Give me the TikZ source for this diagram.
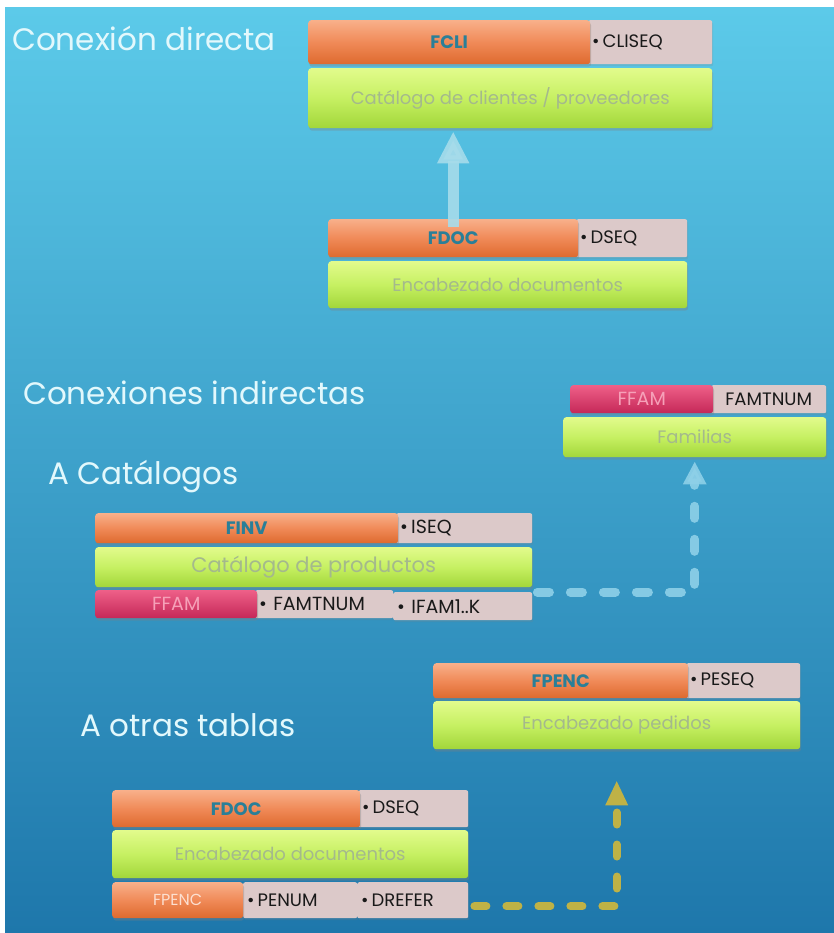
\documentclass[tikz,border=0pt]{standalone}
\usepackage{fontspec}
\setmainfont{Poppins}
\usetikzlibrary{arrows.meta,shadows,calc}
\definecolor{bgtop}{HTML}{5CCAE9}
\definecolor{bgbot}{HTML}{1E77AB}
\definecolor{orTop}{HTML}{F8B08A}
\definecolor{orMid}{HTML}{F08A58}
\definecolor{orBot}{HTML}{DE6A2E}
\definecolor{grTop}{HTML}{E2FB8C}
\definecolor{grMid}{HTML}{C6F062}
\definecolor{grBot}{HTML}{A2D63A}
\definecolor{grText}{HTML}{A4B98C}
\definecolor{keyfill}{HTML}{DCC9C9}
\definecolor{pkTop}{HTML}{EE6088}
\definecolor{pkBot}{HTML}{C52858}
\definecolor{pkText}{HTML}{F6A0B8}
\definecolor{tealtext}{HTML}{2A7F98}
\definecolor{titletext}{HTML}{E2F8FC}
\definecolor{arrowblue}{HTML}{A6DCEB}
\definecolor{dashblue}{HTML}{8ED0E8}
\definecolor{olive}{HTML}{BFB246}
\begin{document}
\begin{tikzpicture}[x=1pt,y=-1pt,
  bar/.style={rounded corners=3pt, inner sep=0pt, anchor=north west,
    drop shadow={opacity=0.35,shadow xshift=1pt,shadow yshift=-2.5pt}},
  obar/.style={bar, top color=orTop, bottom color=orBot, middle color=orMid,
    text=tealtext, font=\fontsize{18}{18}\selectfont\bfseries},
  obarlight/.style={bar, top color=orTop, bottom color=orBot, middle color=orMid,
    text=orTop!40!white, font=\fontsize{16}{16}\selectfont},
  pbar/.style={bar, top color=pkTop, bottom color=pkBot, middle color=pkTop!50!pkBot,
    text=pkText, font=\fontsize{19}{19}\selectfont},
  gbar/.style={bar, top color=grTop, bottom color=grBot, middle color=grMid,
    text=grText, font=\fontsize{18}{18}\selectfont},
  kbox/.style={rounded corners=2pt, inner sep=0pt, inner xsep=4pt, anchor=north west,
    fill=keyfill, text=black!90, align=left, font=\fontsize{18}{18}\selectfont,
    drop shadow={opacity=0.2,shadow xshift=1pt,shadow yshift=-2pt}},
  title/.style={anchor=base west, text=titletext, inner sep=0pt, font=\fontsize{31}{31}\selectfont},
  bigarrow/.style={line width=11pt, draw=arrowblue, opacity=0.9,
    -{Triangle[width=30pt,length=32pt]}},
  bluedash/.style={line width=9pt, draw=dashblue, opacity=0.9, line cap=round,
    dash pattern=on 12pt off 21pt, -{Triangle[width=22pt,length=23pt]}},
  olivedash/.style={line width=8pt, draw=olive, line cap=round,
    dash pattern=on 12pt off 20pt, -{Triangle[width=21pt,length=25pt]}}
]
\useasboundingbox (0,0) rectangle (834,933);
\fill[white] (0,0) rectangle (834,933);
\fill[top color=bgtop, bottom color=bgbot] (5,8) rectangle (834,933);

% titles
\node[title] (t1) at (12,51) {Conexión directa};
\node[title] (t2) at (23,404) {Conexiones indirectas};
\node[title] (t3) at (48,484) {A Catálogos};
\node[title] (t4) at (80,736) {A otras tablas};

% ---- Conexion directa
\node[kbox, text width=116pt, minimum height=44pt] (k1) at (588,20) {•\,CLISEQ};
\node[obar, minimum width=282pt, minimum height=44pt] (o1) at (308,20) {FCLI};
\node[gbar, minimum width=404pt, minimum height=60pt] (g1) at (308,68) {Catálogo de clientes / proveedores};

\node[kbox, text width=103pt, minimum height=38pt] (k2) at (576,219) {•\,DSEQ};
\node[obar, minimum width=250pt, minimum height=38pt] (o2) at (328,219) {FDOC};
\node[gbar, minimum width=359pt, minimum height=47pt] (g2) at (328,261) {Encabezado documentos};

\draw[bigarrow, shorten >=3pt] ([yshift=-8pt]o2.north) -- (o2.north |- g1.south);

% ---- Conexiones indirectas
\node[kbox, align=center, text width=107pt, minimum height=28pt] (k3) at (711,385) {FAMTNUM};
\node[pbar, minimum width=143pt, minimum height=28pt] (p1) at (570,385) {FFAM};
\node[gbar, minimum width=263pt, minimum height=40pt] (g3) at (563,417) {Familias};

\node[kbox, text width=128pt, minimum height=30pt, font=\fontsize{19}{19}\selectfont] (k4) at (396,513) {•\,ISEQ};
\node[obar, minimum width=303pt, minimum height=30pt] (o3) at (95,513) {FINV};
\node[gbar, minimum width=437pt, minimum height=40pt, font=\fontsize{21}{21}\selectfont] (g4) at (95,547) {Catálogo de productos};
\node[kbox, text width=130pt, minimum height=28pt, font=\fontsize{19}{19}\selectfont] (k5) at (255,590) {•\ FAMTNUM};
\node[kbox, text width=131pt, minimum height=28pt, font=\fontsize{19}{19}\selectfont] (k6) at (393,592) {•\ IFAM1..K};
\node[pbar, minimum width=162pt, minimum height=28pt] (p2) at (95,590) {FFAM};

\draw[bluedash, shorten >=4pt] ([xshift=5pt]k6.north east) -| (g3.south);

% ---- A otras tablas
\node[kbox, text width=106pt, minimum height=35pt] (k7) at (686,663) {•\,PESEQ};
\node[obar, minimum width=255pt, minimum height=35pt] (o4) at (433,663) {FPENC};
\node[gbar, minimum width=367pt, minimum height=48pt] (g5) at (433,701) {Encabezado pedidos};

\node[kbox, text width=102pt, minimum height=37pt] (k8) at (358,790) {•\,DSEQ};
\node[obar, minimum width=248pt, minimum height=37pt] (o5) at (112,790) {FDOC};
\node[gbar, minimum width=356pt, minimum height=48pt] (g6) at (112,830) {Encabezado documentos};
\node[kbox, text width=106pt, minimum height=36pt] (k9) at (243,882) {•\,PENUM};
\node[kbox, text width=103pt, minimum height=36pt] (k10) at (357,882) {•\,DREFER};
\node[obarlight, minimum width=131pt, minimum height=36pt] (o6) at (112,882) {FPENC};

\draw[olivedash, shorten >=31pt] ([xshift=6pt,yshift=-6pt]k10.east) -| (g5.south);
\end{tikzpicture}
\end{document}
